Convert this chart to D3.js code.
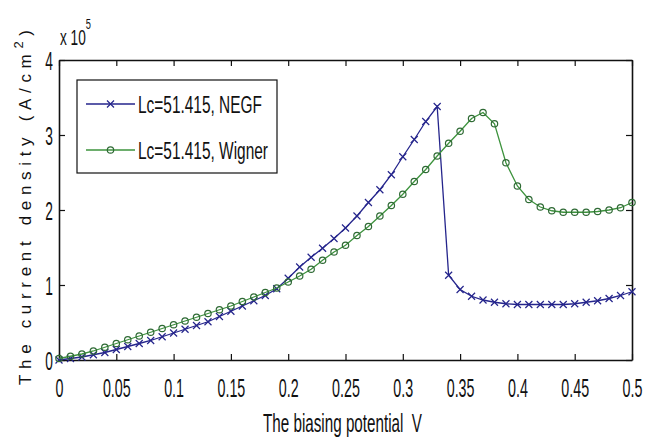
<!DOCTYPE html>
<html>
<head>
<meta charset="utf-8">
<script src="https://cdn.jsdelivr.net/npm/d3@7"></script>
<style>
	body { margin: 0; background: #fff; }
	svg { display: block; font-family: "Liberation Sans", Arial, sans-serif; }
	.keep-space { white-space: pre; }
</style>
</head>
<body>
<svg id="chart" width="649" height="441"></svg>
<script>
// bias voltage, 0 .. 0.5 V in 0.01 steps
const voltages = d3.range(51).map((i) => +(i * 0.01).toFixed(2));

// current density, units of 1e5 A/cm^2
const negfValues = [
	0.00, 0.02, 0.04, 0.07, 0.10, 0.14, 0.18, 0.22, 0.26, 0.31,
	0.36, 0.41, 0.46, 0.51, 0.58, 0.65, 0.72, 0.79, 0.86, 0.95,
	1.09, 1.24, 1.37, 1.49, 1.62, 1.76, 1.92, 2.10, 2.27, 2.47,
	2.71, 2.94, 3.18, 3.38, 1.13, 0.94, 0.85, 0.80, 0.77, 0.75,
	0.74, 0.74, 0.74, 0.74, 0.74, 0.75, 0.77, 0.79, 0.82, 0.86,
	0.91
];
const wignerValues = [
	0.02, 0.05, 0.08, 0.12, 0.17, 0.22, 0.27, 0.32, 0.37, 0.42,
	0.47, 0.52, 0.57, 0.62, 0.67, 0.72, 0.78, 0.84, 0.90, 0.96,
	1.04, 1.12, 1.21, 1.33, 1.44, 1.53, 1.66, 1.78, 1.92, 2.06,
	2.21, 2.38, 2.54, 2.72, 2.89, 3.05, 3.22, 3.30, 3.15, 2.63,
	2.32, 2.14, 2.04, 1.99, 1.97, 1.97, 1.97, 1.98, 2.00, 2.03,
	2.10
];

const xTicks = [0, 0.05, 0.1, 0.15, 0.2, 0.25, 0.3, 0.35, 0.4, 0.45, 0.5];
const yTicks = [0, 1, 2, 3, 4];
const seriesNames = ["Lc=51.415, NEGF", "Lc=51.415, Wigner"];

const margin = {top: 60, right: 17, bottom: 81, left: 59};
const svg = d3.select("#chart");
const W = +svg.attr("width");
const H = +svg.attr("height");
const width = W - margin.left - margin.right;
const height = H - margin.top - margin.bottom;
const squeeze = 0.55;

const x = d3.scaleLinear().domain([0, 0.5]).range([0, width]);
const y = d3.scaleLinear().domain([0, 4]).range([height, 0]);

svg.append("rect").attr("width", W).attr("height", H).attr("fill", "#fff");

const g = svg.append("g").attr("transform", `translate(${margin.left},${margin.top})`);

const fmt = (d) => (d === 0 ? "0" : String(d));

// axes: MATLAB box with inward ticks
const xAxis = g.append("g")
.attr("transform", `translate(0,${height})`)
.call(d3.axisBottom(x).tickValues(xTicks).tickFormat(fmt).tickSizeInner(-6).tickSizeOuter(0));

xAxis.selectAll("text")
.attr("y", 37)
.attr("dy", null)
.attr("font-size", 26)
.attr("fill", "#111")
.attr("transform", `scale(${squeeze},1)`);

const yAxis = g.append("g")
.call(d3.axisLeft(y).tickValues(yTicks).tickFormat(fmt).tickSizeInner(-6).tickSizeOuter(0));

yAxis.selectAll("text")
.attr("x", -6 / squeeze)
.attr("dy", 9)
.attr("font-size", 25)
.attr("fill", "#111")
.attr("transform", `scale(${squeeze},1)`);

g.append("g")
.call(d3.axisTop(x).tickValues(xTicks).tickFormat("").tickSizeInner(-6).tickSizeOuter(0));

g.append("g")
.attr("transform", `translate(${width},0)`)
.call(d3.axisRight(y).tickValues(yTicks).tickFormat("").tickSizeInner(-6).tickSizeOuter(0));

g.selectAll(".domain").attr("stroke", "#111").attr("stroke-width", 1.6);
g.selectAll(".tick line").attr("stroke", "#111").attr("stroke-width", 1.2);

// exponent label
const expo = svg.append("text")
.attr("transform", `translate(60,45) scale(0.62,1)`)
.attr("font-size", 22)
.attr("fill", "#111");
expo.append("tspan").text("x 10");
expo.append("tspan").attr("dy", -16).attr("font-size", 15).text("5");

// axis titles
svg.append("text")
.attr("class", "keep-space")
.attr("x", 263)
.attr("y", 432)
.attr("font-size", 25)
.attr("fill", "#111")
.attr("textLength", 159)
.attr("lengthAdjust", "spacingAndGlyphs")
.text("The biasing potential  V");

const yTitle = svg.append("text")
.attr("transform", "translate(31,385) rotate(-90)")
.attr("font-size", 17)
.attr("fill", "#111")
.attr("textLength", 355)
.attr("lengthAdjust", "spacing");
yTitle.append("tspan").text("The current density (A/cm");
yTitle.append("tspan").attr("dy", -8).attr("font-size", 13).text("2");
yTitle.append("tspan").attr("dy", 8).text(")");

// series
const series = [
	{name: seriesNames[0], values: negfValues, color: "#25258c", mark: "x"},
	{name: seriesNames[1], values: wignerValues, color: "#3d933d", mark: "o"}
];

const line = d3.line().x((d) => x(d[0])).y((d) => y(d[1]));

const drawMark = (sel, s, cx, cy) => {
	if (s.mark === "x") {
		const r = 3.5;
		sel.append("path")
		.attr("d", `M${cx - r},${cy - r}L${cx + r},${cy + r}M${cx - r},${cy + r}L${cx + r},${cy - r}`)
		.attr("stroke", s.color)
		.attr("stroke-width", 1.2)
		.attr("fill", "none");
	} else {
		sel.append("circle")
		.attr("cx", cx)
		.attr("cy", cy)
		.attr("r", 3.2)
		.attr("stroke", "#2f6a35")
		.attr("stroke-width", 1.2)
		.attr("fill", "none");
	}
};

series.forEach((s) => {
	const pts = voltages.map((v, i) => [v, s.values[i]]);
	g.append("path")
	.datum(pts)
	.attr("d", line)
	.attr("fill", "none")
	.attr("stroke", s.color)
	.attr("stroke-width", 1.3);
	const mg = g.append("g");
	pts.forEach((p) => drawMark(mg, s, x(p[0]), y(p[1])));
});

// legend
const legend = svg.append("g").attr("transform", "translate(77,80)");
legend.append("rect")
.attr("width", 200)
.attr("height", 93)
.attr("fill", "#fff")
.attr("stroke", "#111")
.attr("stroke-width", 1.2);

series.forEach((s, i) => {
	const ly = 24 + i * 46;
	legend.append("line")
	.attr("x1", 9).attr("x2", 58)
	.attr("y1", ly).attr("y2", ly)
	.attr("stroke", s.color)
	.attr("stroke-width", 1.3);
	drawMark(legend, s, 33.5, ly);
	legend.append("text")
	.attr("x", 61)
	.attr("y", ly + 9)
	.attr("font-size", 23)
	.attr("fill", "#111")
	.attr("textLength", i === 0 ? 124 : 130)
	.attr("lengthAdjust", "spacingAndGlyphs")
	.text(s.name);
});
</script>
</body>
</html>
